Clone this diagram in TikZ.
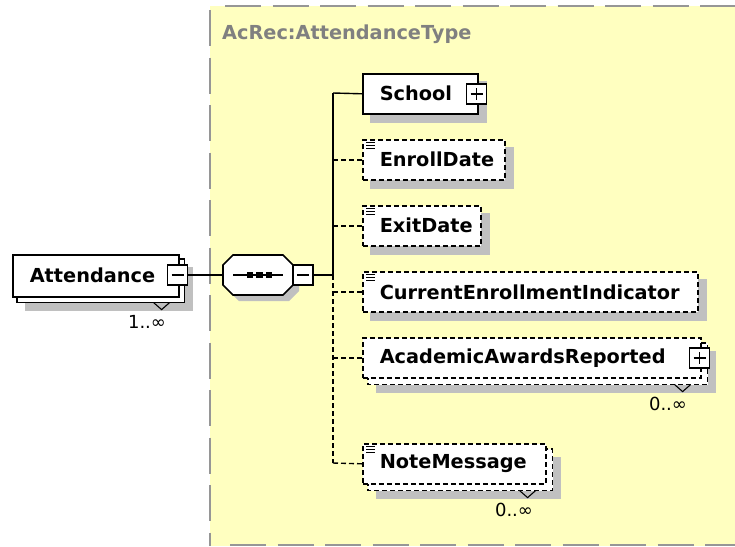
\documentclass[tikz,border=0pt]{standalone}
\usepackage{fontspec}
\newfontfamily\djs{DejaVu Sans}
\usetikzlibrary{calc}
\pgfdeclarelayer{cont}
\pgfdeclarelayer{shad}
\pgfdeclarelayer{back}
\pgfsetlayers{cont,shad,back,main}
\definecolor{contfill}{RGB}{255,255,192}
\definecolor{contline}{RGB}{150,150,150}
\definecolor{titlec}{RGB}{128,128,128}
\definecolor{shadc}{RGB}{192,192,192}
\begin{document}
\begin{tikzpicture}[x=1pt,y=-1pt,
  lblfont/.style={font=\fontsize{19.3}{22}\selectfont\djs\bfseries},
  elem/.style={draw=black, line width=1.6pt, fill=white, anchor=north west,
    minimum height=40pt, inner xsep=17pt, inner ysep=0pt, align=left, lblfont},
  optl/.style={dash pattern=on 5pt off 3pt},
  conn/.style={line width=1.4pt, draw=black},
  pmbox/.style={draw=black, line width=1.4pt, fill=white, minimum width=20pt,
    minimum height=20pt, inner sep=0pt},
  mult/.style={font=\fontsize{18}{21}\selectfont\djs, inner sep=0pt},
  shadowbox/.style={fill=shadc},
  contborder/.style={draw=contline, line width=2pt, dash pattern=on 36pt off 11.5pt}
]
\useasboundingbox (0,0) rectangle (735,546);

% container
\begin{pgfonlayer}{cont}
\fill[contfill] (210,6) rectangle (745,546);
\draw[contborder] (225,6) -- (745,6);
\draw[contborder] (210,10) -- (210,546);
\draw[contborder] (230,545) -- (745,545);
\end{pgfonlayer}
\node[anchor=west, inner sep=0pt, text=titlec, lblfont] (title) at (222,34) {AcRec:AttendanceType};

% Attendance element
\node[elem, text width=132pt, minimum height=42pt] (att) at (12,254) {Attendance};
\begin{pgfonlayer}{back}
\draw[line width=1.6pt, fill=white] ($(att.north west)+(5,5)$) rectangle ($(att.south east)+(5,5)$);
\end{pgfonlayer}
\begin{pgfonlayer}{shad}
\fill[shadowbox] ($(att.north west)+(13,13)$) rectangle ($(att.south east)+(13,13)$);
\end{pgfonlayer}
\node[pmbox] (attm) at (177.5,275) {};
\draw[line width=1.4pt] ($(attm.center)+(-6,0)$) -- ($(attm.center)+(6,0)$);
\draw[line width=1.1pt] ($(att.south east)+(-26,5)$) -- ($(att.south east)+(-18,12)$) -- ($(att.south east)+(-10,5)$);
\node[mult] (attmult) at (147,322) {1..∞};

% sequence compositor
\node[minimum width=70pt, minimum height=40pt, inner sep=0pt] (seq) at (258,275) {};
\begin{pgfonlayer}{shad}
\fill[shadowbox] (229,271) -- (239,261) -- (289,261) -- (299,271) -- (299,291) -- (289,301) -- (239,301) -- (229,291) -- cycle;
\end{pgfonlayer}
\draw[line width=1.6pt, fill=white] (223,265) -- (233,255) -- (283,255) -- (293,265) -- (293,285) -- (283,295) -- (233,295) -- (223,285) -- cycle;
\draw[line width=1.4pt] (233,275) -- (283,275);
\foreach \cx in {250,259.5,269} \fill (\cx-3.3,271.7) rectangle (\cx+3.3,278.3);
\node[pmbox] (seqm) at (303,275) {};
\draw[line width=1.4pt] ($(seqm.center)+(-6,0)$) -- ($(seqm.center)+(6,0)$);

% children
\node[elem, text width=81pt] (school) at (362,73) {School};
\node[elem, optl, text width=108pt] (enroll) at (362,139) {EnrollDate};
\node[elem, optl, text width=84pt] (exit) at (362,205) {ExitDate};
\node[elem, optl, text width=301pt] (current) at (362,271) {CurrentEnrollmentIndicator};
\node[elem, optl, text width=304pt] (awards) at (362,337) {AcademicAwardsReported};
\node[elem, optl, text width=149pt] (note) at (362,443) {NoteMessage};

% stacked boxes
\begin{pgfonlayer}{back}
\draw[line width=1.6pt, optl, fill=white] ($(awards.north west)+(6,6)$) rectangle ($(awards.south east)+(6,6)$);
\draw[line width=1.6pt, optl, fill=white] ($(note.north west)+(6,6)$) rectangle ($(note.south east)+(6,6)$);
\end{pgfonlayer}

% shadows
\begin{pgfonlayer}{shad}
\foreach \n in {school,enroll,exit,current}
  \fill[shadowbox] ($(\n.north west)+(8,8)$) rectangle ($(\n.south east)+(8,8)$);
\foreach \n in {awards,note}
  \fill[shadowbox] ($(\n.north west)+(14,14)$) rectangle ($(\n.south east)+(14,14)$);
\end{pgfonlayer}

% plus boxes
\node[pmbox] (schoolp) at (476.5,94) {};
\draw[line width=1.4pt] ($(schoolp.center)+(-6,0)$) -- ($(schoolp.center)+(6,0)$)
  ($(schoolp.center)+(0,-6)$) -- ($(schoolp.center)+(0,6)$);
\node[pmbox] (awardsp) at (699.5,358) {};
\draw[line width=1.4pt] ($(awardsp.center)+(-6,0)$) -- ($(awardsp.center)+(6,0)$)
  ($(awardsp.center)+(0,-6)$) -- ($(awardsp.center)+(0,6)$);

% simple-type icons
\foreach \n in {enroll,exit,current,note}
  \foreach \d in {3,6,9}
    \draw[line width=1pt] ($(\n.north west)+(4,\d)$) -- ++(9,0);

% multiplicities
\draw[line width=1.1pt] ($(awards.south east)+(-27,6)$) -- ($(awards.south east)+(-19,13)$) -- ($(awards.south east)+(-11,6)$);
\node[mult] (awardsmult) at (668,404) {0..∞};
\draw[line width=1.1pt] ($(note.south east)+(-27,6)$) -- ($(note.south east)+(-19,13)$) -- ($(note.south east)+(-11,6)$);
\node[mult] (notemult) at (514,510) {0..∞};

% connectors
\coordinate (tj) at (333,275);
\coordinate (ts) at (333,93);
\coordinate (tb) at (333,463);
\draw[conn] (attm.east) -- (seq.west);
\draw[conn] (seqm.east) -- (tj);
\draw[conn] (ts) -- (tj);
\draw[conn, optl] (tj) -- (tb);
\draw[conn] (ts) -- (school.west);
\draw[conn, optl] (enroll.west -| tj) -- (enroll.west);
\draw[conn, optl] (exit.west -| tj) -- (exit.west);
\draw[conn, optl] (current.west -| tj) -- (current.west);
\draw[conn, optl] (awards.west -| tj) -- (awards.west);
\draw[conn, optl] (tb) -- (note.west);
\end{tikzpicture}
\end{document}
